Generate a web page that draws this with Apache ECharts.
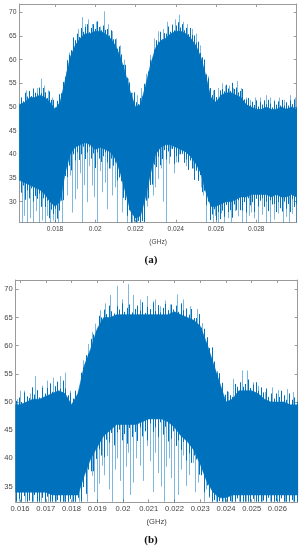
<!DOCTYPE html>
<html><head><meta charset="utf-8">
<script src="https://cdn.jsdelivr.net/npm/echarts@6/dist/echarts.min.js"></script>
<style>html,body{margin:0;padding:0;background:#fff}#c{width:302px;height:550px}</style>
</head><body><div id="c"></div>
<script>
// ---------- chart (a) ----------
var freqA = [0.01623,0.0165,0.01675,0.017,0.01725,0.0175,0.01775,0.018,0.01825,0.0185,0.01875,0.019,0.01925,0.0195,0.01975,0.02,0.02025,0.0205,0.02075,0.021,0.02125,0.0215,0.02175,0.022,0.02225,0.0225,0.02275,0.023,0.02325,0.0235,0.02375,0.024,0.02425,0.0245,0.02475,0.025,0.02525,0.0255,0.02575,0.026,0.02625,0.0265,0.02675,0.027,0.02725,0.0275,0.02775,0.028,0.02825,0.0285,0.02875,0.029,0.02925,0.0295,0.02975,0.03];
var coreHighA = [50.5,51,52,52,52.5,52,51,49.5,51,55.5,60.5,63,64.5,65.5,65.5,66,66,65.5,64.5,63,60.5,57,53,50,50.5,54.5,59,62.5,64,64.5,65.5,66,66,65.5,64.5,63,60.5,56.5,52,51,52.5,53,53,52.5,52,50.5,50,49.5,49.5,50,49.5,49.5,50,49.5,50,49.5];
var coreLowA = [34.5,34,33.5,33,32.5,31.5,30,29,30,36,40,41.5,42,42.5,42,41,41.5,41,40.5,39,36,32,28,26.5,27,31,36,40,41.5,42,42,41.5,41,40.5,39.5,38,36,32,29,29,29.5,30,30,30.5,31,31,31.5,31.5,31.5,31.5,31,31.5,31,31,31.5,31];
// fine trace, one sample every 0.0001 GHz starting at 0.0163 GHz: upper and lower excursions
var traceStartA = 0.0163, traceStepA = 0.0001;
var traceTopA = [52.0,51.2,53.0,52.2,53.4,52.3,53.9,53.0,52.8,54.1, 52.9,54.0,53.1,51.9,53.3,51.5,51.5,49.9,51.3,52.7, 52.9,55.3,56.4,59.9,61.0,62.0,64.7,64.1,65.5,64.8, 66.7,65.9,66.9,67.5,65.8,66.7,67.5,66.5,68.1,66.9, 66.2,67.2,66.3,66.5,65.1,66.2,64.3,64.3,62.3,62.8, 61.1,58.9,58.9,56.2,55.2,53.0,53.1,51.0,50.6,51.9, 52.2,54.9,55.0,57.5,59.9,60.1,62.1,64.1,63.8,65.9, 64.3,65.6,65.5,67.0,65.9,67.3,66.2,67.2,67.9,66.8, 67.5,66.2,66.7,65.4,66.7,65.2,65.1,63.6,63.8,61.4, 60.5,60.0,56.9,56.1,54.0,52.5,53.6,52.1,51.6,53.5, 53.8,53.3,54.7,53.9,53.4,55.1,53.8,54.1,53.1,53.4, 53.8,51.6,51.6,51.9,50.4,51.1,50.4,51.4,50.1,51.1, 50.5,51.4,50.6,51.5,50.7,49.9,51.2,50.5,51.2,50.3, 51.5,50.3,51.0,50.3,51.4,50.6,51.6,50.0];
var traceBotA = [31.9,33.4,30.4,32.4,30.7,32.8,30.0,31.2,30.6,31.7, 28.9,30.7,28.9,30.2,26.5,28.3,27.4,28.5,26.4,28.1, 30.2,30.3,35.4,35.2,37.6,36.6,40.0,38.7,40.4,38.8, 40.0,41.6,39.0,40.4,41.6,39.1,40.2,37.1,40.4,39.1, 38.4,39.6,40.4,38.3,37.0,39.1,37.6,38.3,34.5,35.2, 34.3,30.8,30.3,27.0,28.2,25.6,25.8,25.6,25.9,25.6, 25.9,25.7,30.2,30.7,33.5,33.6,37.8,37.3,39.5,37.7, 39.0,40.9,38.9,40.6,39.5,41.1,38.0,39.6,38.3,40.0, 40.1,38.2,38.9,36.7,38.7,37.0,34.6,36.6,34.4,35.6, 32.0,32.3,29.3,30.0,26.1,27.3,28.4,26.1,27.8,26.3, 28.1,26.8,29.3,27.8,28.2,26.6,29.4,28.2,30.3,28.2, 28.1,29.9,27.7,30.7,29.2,29.9,27.8,30.6,29.0,30.2, 30.7,28.9,30.0,28.0,30.3,29.4,29.5,27.8,29.9,28.6, 27.9,30.0,28.5,29.5,27.8,30.5,28.9,29.5];
var peaksA = [[0.01631,52],[0.01656,53.5],[0.01691,53.5],[0.0171,54],[0.01729,56],[0.01745,54.5],[0.01765,53.5],[0.01785,52],[0.0181,50.5],[0.01835,53],[0.01855,57.5],[0.0187,61.5],[0.0189,64.5],[0.01914,66.5],[0.01934,69],[0.01949,67.5],[0.01964,68.5],[0.01984,67.5],[0.02004,68],[0.02024,67],[0.02044,70.2],[0.02064,67.5],[0.02084,66],[0.02104,64.5],[0.02123,63],[0.02143,60],[0.02163,56],[0.02183,53],[0.02208,52.5],[0.02228,54],[0.02253,57],[0.02273,61],[0.02293,64.5],[0.02313,66],[0.02337,66.5],[0.02357,68],[0.02382,67.5],[0.02397,68.5],[0.02417,69.5],[0.02437,68],[0.02457,67.5],[0.02482,66.5],[0.02502,65.5],[0.02521,63],[0.02541,60],[0.02561,56.5],[0.02586,53.5],[0.02611,54],[0.02631,55],[0.02646,54.5],[0.02666,54.5],[0.02686,54],[0.02705,55.5],[0.02725,54],[0.0275,52],[0.0277,51.5],[0.02795,52],[0.0282,52],[0.0285,52.5],[0.0287,52],[0.02889,51.5],[0.02914,52],[0.02939,51.5],[0.02968,52.5],[0.02993,52]];
var dipsA = [[0.01636,25.6],[0.01646,27],[0.01661,25.6],[0.01676,26.5],[0.01691,25.6],[0.01705,28],[0.0172,25.6],[0.01735,26],[0.0175,25.6],[0.01762,27],[0.01775,25.6],[0.01788,26],[0.018,25.6],[0.01815,25.6],[0.01835,25.6],[0.0186,31.3],[0.01872,35.5],[0.01885,27.7],[0.01897,30.5],[0.0191,32.7],[0.01922,36],[0.01934,25.6],[0.01946,33.5],[0.01959,29.9],[0.01971,37.5],[0.01984,33.4],[0.01996,31],[0.02009,25.6],[0.02021,36.5],[0.02034,32],[0.02046,34],[0.02059,28.4],[0.02071,37],[0.02084,31.3],[0.02096,33],[0.02108,25.6],[0.0212,35],[0.02133,27.7],[0.02158,25.6],[0.02183,25.6],[0.02208,25.6],[0.02233,26.2],[0.02258,29],[0.02288,31.3],[0.02298,33],[0.02313,34.8],[0.02325,37],[0.02338,30],[0.02352,25.6],[0.02365,38],[0.02377,41.2],[0.0239,36],[0.02402,38.3],[0.02415,40],[0.02427,42.6],[0.0245,37.5],[0.02462,39.8],[0.02475,40.5],[0.02487,37],[0.025,36.5],[0.02512,34.8],[0.02525,33],[0.02537,31.3],[0.02552,25.6],[0.02587,25.6],[0.02595,27],[0.02611,25.6],[0.02626,27.5],[0.02641,25.6],[0.02658,26.5],[0.02676,25.6],[0.02693,28],[0.02711,26.9],[0.0273,25.6],[0.0275,25.6],[0.02762,27],[0.02775,27.7],[0.0279,26.5],[0.0281,25.6],[0.0283,27.2],[0.0285,25.6],[0.0287,25.6],[0.0289,26.2],[0.0291,27.5],[0.02934,25.6],[0.0295,26.8],[0.02964,25.6],[0.0298,27.4],[0.02999,25.6]];
var xTicksA = [0.018,0.02,0.022,0.024,0.026,0.028];
var yTicksA = [30,35,40,45,50,55,60,65,70];

// ---------- chart (b) ----------
var freqB = [0.01583,0.016,0.01625,0.0165,0.01675,0.017,0.01725,0.0175,0.01775,0.018,0.01825,0.0185,0.01875,0.019,0.01925,0.0195,0.01975,0.02,0.02025,0.0205,0.02075,0.021,0.02125,0.0215,0.02175,0.022,0.02225,0.0225,0.02275,0.023,0.02325,0.0235,0.02375,0.024,0.02425,0.0245,0.02475,0.025,0.02525,0.0255,0.02575,0.026,0.02625,0.0265,0.02679];
var coreHighB = [49.5,49.5,50,50.5,50.5,51,51.5,52,51.5,49.5,51.5,56.5,59.5,63,65,65,65.5,65.5,65.5,65.5,65.5,65.5,65.5,65.5,65.5,66,65.5,65,64.5,63.5,60.5,57,53.5,50,50.5,52,52,52,51.5,50.5,50,50,50,49.5,49.5];
var coreLowB = [34,34,34,34,34,34,33.5,33.5,33.5,33.5,33.5,37,40,42,44,45,46,46,46,46,46.5,47,47,47,46.5,45.5,44,43,41.5,39,36,34,33,33,33.5,33.5,33.5,33.5,33.5,33.5,33.5,33.5,33.5,33.5,33.5];
var traceStartB = 0.01585, traceStepB = 0.0001;
var traceTopB = [50.2,50.8,50.0,51.7,51.0,50.7,52.6,51.3,52.1,50.8, 52.5,51.5,52.5,53.3,51.8,52.8,53.6,52.4,53.8,52.4, 51.2,51.6,50.6,52.0,51.8,55.2,56.1,58.3,58.5,61.2, 62.0,62.6,65.3,65.0,66.4,65.6,67.1,66.1,65.7,67.0, 66.4,67.5,66.0,66.7,67.3,65.9,66.5,67.1,66.2,67.7, 65.8,66.9,66.5,67.6,66.1,67.2,65.9,66.7,67.4,66.3, 67.3,66.4,67.1,66.0,67.5,66.3,66.6,65.5,66.5,64.9, 64.9,65.6,63.2,63.0,61.5,59.6,59.7,57.2,55.2,55.1, 53.4,51.3,51.9,51.2,50.9,53.2,52.7,53.5,52.7,53.2, 54.0,52.5,53.1,53.5,52.0,52.6,51.7,52.4,50.9,51.5, 50.6,51.5,50.9,52.0,51.2,50.4,51.5,50.4,50.8,50.0];
var traceBotB = [32.3,32.8,32.3,33.3,32.3,32.5,32.3,33.5,32.3,32.3, 33.0,32.3,33.2,32.3,32.3,32.3,32.6,32.3,32.3,32.3, 32.3,32.8,32.3,32.3,33.0,32.3,34.9,33.7,38.0,37.7, 37.7,39.9,41.6,40.5,40.2,43.3,42.8,44.5,42.3,44.6, 45.1,43.2,44.3,42.6,45.4,43.8,44.7,43.1,45.5,43.9, 44.8,43.2,46.2,44.7,45.5,43.8,46.4,44.2,45.6,43.0, 43.5,44.8,42.2,43.2,41.5,42.9,39.6,40.9,39.2,40.5, 39.8,37.1,37.0,34.0,35.2,33.2,32.3,32.6,32.3,32.4, 32.3,32.3,32.3,32.4,32.3,32.3,32.9,32.3,32.3,32.3, 32.3,32.3,32.8,32.3,32.3,32.3,32.5,32.3,33.0,32.3, 32.3,32.4,32.3,32.9,32.3,32.3,32.3,32.6,32.3,32.3];
var peaksB = [[0.01587,50.5],[0.016,52],[0.01615,52],[0.01639,51.5],[0.01658,54.6],[0.01684,52.9],[0.01703,53.8],[0.01728,54.3],[0.01755,54.6],[0.01775,55.2],[0.01794,52],[0.01815,50.8],[0.01833,53.2],[0.01844,57.4],[0.01864,60.3],[0.01879,62.4],[0.01891,63.9],[0.0191,66.3],[0.0193,67.5],[0.01949,69],[0.01976,70.6],[0.01996,68.2],[0.02019,70.9],[0.02039,69],[0.02066,68.2],[0.02093,68.8],[0.02116,67.9],[0.02124,68.2],[0.02143,67],[0.02163,68],[0.02182,67.3],[0.02209,69.1],[0.02233,68.2],[0.0226,67],[0.02287,66.5],[0.02306,64],[0.02326,61],[0.02345,59],[0.02365,55.5],[0.02384,53],[0.02407,51.8],[0.02427,54.1],[0.02462,55.6],[0.02482,55.6],[0.02505,53.5],[0.02524,52.9],[0.02551,51.8],[0.02578,52.6],[0.02602,52.1],[0.02637,52.3],[0.0266,51.8]];
var dipsB = [[0.01595,32.3],[0.0162,32.3],[0.0165,32.3],[0.0168,32.3],[0.0171,32.3],[0.0174,32.3],[0.0177,32.3],[0.018,32.3],[0.0183,32.3],[0.0186,32.3],[0.01879,36.9],[0.01889,34],[0.01899,32.3],[0.01908,35.5],[0.01918,38.7],[0.01928,37],[0.01938,40.4],[0.01947,34.5],[0.01957,32.3],[0.01967,38],[0.01977,40],[0.01988,36],[0.02,32.3],[0.0201,38.5],[0.02019,41],[0.02029,33.5],[0.02039,35.7],[0.02052,40],[0.02066,38.7],[0.02079,36],[0.02093,42.2],[0.02105,39.5],[0.02116,34],[0.02126,41],[0.02136,37.4],[0.02147,35],[0.02159,32.3],[0.02168,38.5],[0.02178,40],[0.02188,36.5],[0.02198,32.3],[0.02212,33.5],[0.02225,38],[0.02235,40.5],[0.02244,35.1],[0.02258,37],[0.02271,39.2],[0.0228,34],[0.02291,35.7],[0.02302,37.5],[0.02314,32.3],[0.02322,34.5],[0.02333,33],[0.0236,32.3],[0.0239,32.3],[0.0242,32.3],[0.0245,32.3],[0.0248,32.3],[0.0251,32.3],[0.0254,32.3],[0.0257,32.3],[0.026,32.3],[0.0263,32.3],[0.0266,32.3]];
var xTicksB = [0.016,0.017,0.018,0.019,0.02,0.021,0.022,0.023,0.024,0.025,0.026];
var yTicksB = [35,40,45,50,55,60,65,70];

var BLUE = '#0072BD';
var AXC = '#9a9a9a';
var LBL = '#444';
var FONT = '"Liberation Sans", Arial, sans-serif';

function bandSeries(xi, yi, fx, hi, lo) {
  return {
    type: 'custom', xAxisIndex: xi, yAxisIndex: yi, z: 3, silent: true,
    data: [[fx[0], hi[0]]],
    renderItem: function (params, api) {
      var pts = [];
      for (var i = 0; i < fx.length; i++) pts.push(api.coord([fx[i], hi[i]]));
      for (var j = fx.length - 1; j >= 0; j--) pts.push(api.coord([fx[j], lo[j]]));
      return { type: 'polygon', shape: { points: pts }, style: { fill: BLUE, stroke: BLUE, lineWidth: 0.6 } };
    }
  };
}
function traceData(start, step, top, bot) {
  var d = [];
  for (var i = 0; i < top.length; i++) d.push([+(start + i * step).toFixed(5), top[i], bot[i]]);
  return d;
}
function traceSeries(xi, yi, data) {
  return {
    type: 'custom', xAxisIndex: xi, yAxisIndex: yi, z: 4, silent: true,
    data: data,
    renderItem: function (params, api) {
      var p1 = api.coord([api.value(0), api.value(1)]);
      var p2 = api.coord([api.value(0), api.value(2)]);
      var x = Math.round(p1[0]) + 0.5;
      return { type: 'line', shape: { x1: x, y1: p1[1], x2: x, y2: p2[1] },
               style: { stroke: BLUE, lineWidth: 1 } };
    }
  };
}
function spikeSeries(xi, yi, data, anchor) {
  return {
    type: 'custom', xAxisIndex: xi, yAxisIndex: yi, z: 2, silent: true,
    data: data,
    renderItem: function (params, api) {
      var p1 = api.coord([api.value(0), api.value(1)]);
      var p2 = api.coord([api.value(0), anchor]);
      var x = Math.round(p1[0]) + 0.5;
      return { type: 'line', shape: { x1: x, y1: p1[1], x2: x, y2: p2[1] },
               style: { stroke: 'rgba(0,114,189,0.5)', lineWidth: 1 } };
    }
  };
}
function xAx(gi, min, max, ticks, pos, fs, showName) {
  return {
    type: 'value', gridIndex: gi, min: min, max: max, position: pos,
    axisLine: { show: true, onZero: false, lineStyle: { color: AXC, width: 1 } },
    axisTick: { show: true, inside: true, length: 3, customValues: ticks, lineStyle: { color: AXC } },
    axisLabel: { show: pos === 'bottom', customValues: ticks, fontSize: fs, color: LBL, fontFamily: FONT, margin: 3,
                 formatter: function (v) { return String(+v.toFixed(4)); } },
    splitLine: { show: false },
    name: showName ? '(GHz)' : '', nameLocation: 'middle', nameGap: showName ? 16 : 0,
    nameTextStyle: { fontSize: fs, color: LBL, fontFamily: FONT }
  };
}
function yAx(gi, min, max, ticks, pos, fs) {
  return {
    type: 'value', gridIndex: gi, min: min, max: max, position: pos,
    axisLine: { show: true, onZero: false, lineStyle: { color: AXC, width: 1 } },
    axisTick: { show: true, inside: true, length: 3, customValues: ticks, lineStyle: { color: AXC } },
    axisLabel: { show: pos === 'left', customValues: ticks, fontSize: fs, color: LBL, fontFamily: FONT, margin: 3 },
    splitLine: { show: false }
  };
}

var chart = echarts.init(document.getElementById('c'), null, { renderer: 'canvas' });
chart.setOption({
  animation: false,
  backgroundColor: '#fff',
  grid: [
    { left: 19.5, top: 4, width: 277.2, height: 218.7 },
    { left: 15.7, top: 280, width: 282, height: 222.3 }
  ],
  xAxis: [
    xAx(0, 0.016234, 0.03001, xTicksA, 'bottom', 6.6, true),
    xAx(0, 0.016234, 0.03001, xTicksA, 'top', 6.6, false),
    xAx(1, 0.01583, 0.02679, xTicksB, 'bottom', 7.6, true),
    xAx(1, 0.01583, 0.02679, xTicksB, 'top', 7.6, false)
  ],
  yAxis: [
    yAx(0, 25.55, 71.76, yTicksA, 'left', 6.8),
    yAx(0, 25.55, 71.76, yTicksA, 'right', 6.8),
    yAx(1, 32.2, 71.65, yTicksB, 'left', 7.6),
    yAx(1, 32.2, 71.65, yTicksB, 'right', 7.6)
  ],
  series: [
    spikeSeries(0, 0, peaksA, 46),
    spikeSeries(0, 0, dipsA, 46),
    bandSeries(0, 0, freqA, coreHighA, coreLowA),
    traceSeries(0, 0, traceData(traceStartA, traceStepA, traceTopA, traceBotA)),
    spikeSeries(2, 2, peaksB, 48),
    spikeSeries(2, 2, dipsB, 48),
    bandSeries(2, 2, freqB, coreHighB, coreLowB),
    traceSeries(2, 2, traceData(traceStartB, traceStepB, traceTopB, traceBotB))
  ],
  graphic: [
    { type: 'text', x: 151, y: 260, style: { text: '(a)', font: 'bold 11px "Liberation Serif", serif', fill: '#111', align: 'center', verticalAlign: 'middle' } },
    { type: 'text', x: 151, y: 540, style: { text: '(b)', font: 'bold 11px "Liberation Serif", serif', fill: '#111', align: 'center', verticalAlign: 'middle' } }
  ]
});
</script>
</body></html>
